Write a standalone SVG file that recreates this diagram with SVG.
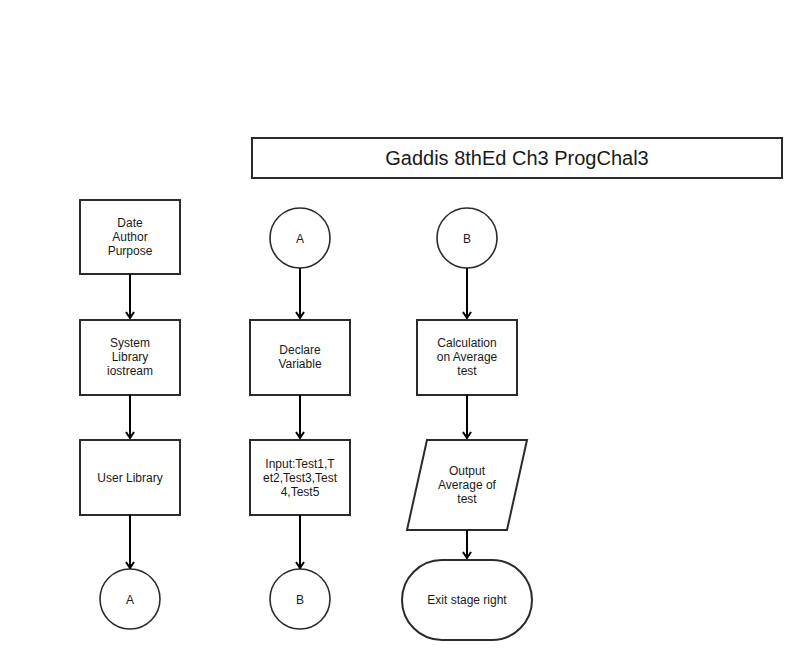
<svg xmlns="http://www.w3.org/2000/svg" width="808" height="660" viewBox="0 0 808 660">
<style>
.shape{fill:#fff;stroke:#2b2b2b;stroke-width:2}
.circ{fill:#fff;stroke:#2b2b2b;stroke-width:1.6}
.lbl{font-family:"Liberation Sans",Arial,sans-serif;font-size:12px;fill:#1a1a1a;text-anchor:middle}
.title{font-family:"Liberation Sans",Arial,sans-serif;font-size:20px;fill:#1a1a1a;text-anchor:middle}
.edge{fill:none;stroke:#000;stroke-width:2}
</style>
<defs>
<marker id="arr" markerWidth="10" markerHeight="10" refX="9" refY="5" orient="auto" markerUnits="userSpaceOnUse" viewBox="0 0 10 10">
<path d="M3,1 L9,5 L3,9" fill="none" stroke="#000" stroke-width="2"/>
</marker>
</defs>
<rect width="808" height="660" fill="#fff"/>
<g id="title"><rect class="shape" x="252" y="138" width="530" height="40"/><text class="title" x="517" y="165">Gaddis 8thEd Ch3 ProgChal3</text></g>
<g id="date"><rect class="shape" x="80" y="200" width="100" height="74"/><text class="lbl" x="130" y="227">Date</text><text class="lbl" x="130" y="241">Author</text><text class="lbl" x="130" y="255">Purpose</text></g>
<g id="syslib"><rect class="shape" x="80" y="320" width="100" height="75"/><text class="lbl" x="130" y="347">System</text><text class="lbl" x="130" y="361">Library</text><text class="lbl" x="130" y="375">iostream</text></g>
<g id="userlib"><rect class="shape" x="80" y="440" width="100" height="75"/><text class="lbl" x="130" y="482">User Library</text></g>
<g id="connA1"><circle class="circ" cx="130" cy="599" r="30"/><text class="lbl" x="130" y="604">A</text></g>
<g id="connA2"><circle class="circ" cx="300" cy="238" r="30"/><text class="lbl" x="300" y="243">A</text></g>
<g id="declare"><rect class="shape" x="250" y="320" width="100" height="75"/><text class="lbl" x="300" y="354">Declare</text><text class="lbl" x="300" y="368">Variable</text></g>
<g id="input"><rect class="shape" x="250" y="440" width="100" height="75"/><text class="lbl" x="300" y="468">Input:Test1,T</text><text class="lbl" x="300" y="482">et2,Test3,Test</text><text class="lbl" x="300" y="496">4,Test5</text></g>
<g id="connB1"><circle class="circ" cx="300" cy="599" r="30"/><text class="lbl" x="300" y="604">B</text></g>
<g id="connB2"><circle class="circ" cx="467" cy="238" r="30"/><text class="lbl" x="467" y="243">B</text></g>
<g id="calc"><rect class="shape" x="417" y="320" width="100" height="75"/><text class="lbl" x="467" y="347">Calculation</text><text class="lbl" x="467" y="361">on Average</text><text class="lbl" x="467" y="375">test</text></g>
<g id="output"><path class="shape" d="M427,440 L527,440 L507,530 L407,530 Z"/><text class="lbl" x="467" y="475">Output</text><text class="lbl" x="467" y="489">Average of</text><text class="lbl" x="467" y="503">test</text></g>
<g id="exit"><rect class="shape" x="402" y="560" width="130" height="80" rx="40" ry="40"/><text class="lbl" x="467" y="604">Exit stage right</text></g>
<g id="connectors">
<path class="edge" d="M130,274 V318" marker-end="url(#arr)"/>
<path class="edge" d="M130,395 V438" marker-end="url(#arr)"/>
<path class="edge" d="M130,515 V568" marker-end="url(#arr)"/>
<path class="edge" d="M300,268 V318" marker-end="url(#arr)"/>
<path class="edge" d="M300,395 V438" marker-end="url(#arr)"/>
<path class="edge" d="M300,515 V568" marker-end="url(#arr)"/>
<path class="edge" d="M467,268 V318" marker-end="url(#arr)"/>
<path class="edge" d="M467,395 V438" marker-end="url(#arr)"/>
<path class="edge" d="M467,530 V558" marker-end="url(#arr)"/>
</g>
</svg>
